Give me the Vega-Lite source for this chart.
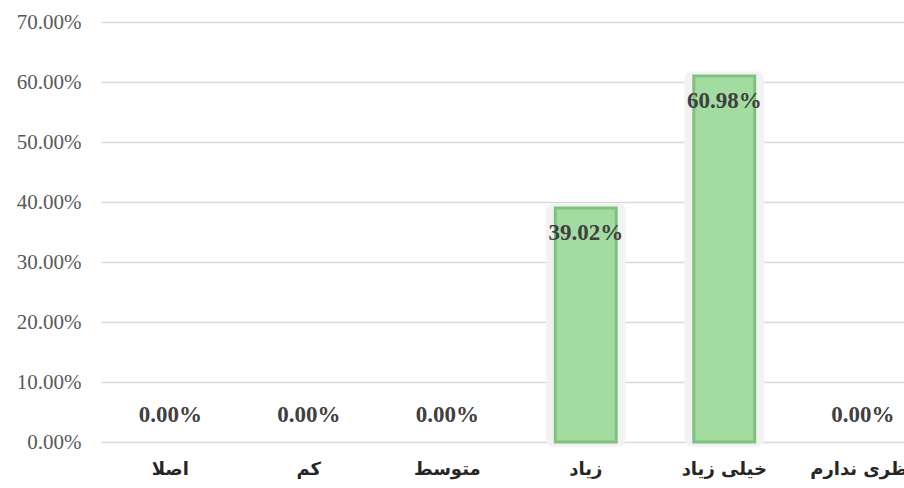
{
  "$schema": "https://vega.github.io/schema/vega-lite/v6.json",
  "autosize": {"type": "none"},
  "width": 831,
  "height": 420,
  "padding": {"left": 101, "top": 22, "right": 0, "bottom": 46},
  "background": "white",
  "config": {"view": {"stroke": null}},
  "data": {"values": [
    {"category": "اصلا", "value": 0},
    {"category": "کم", "value": 0},
    {"category": "متوسط", "value": 0},
    {"category": "زیاد", "value": 0.3902},
    {"category": "خیلی زیاد", "value": 0.6098},
    {"category": "نظری ندارم", "value": 0}
  ]},
  "encoding": {
    "x": {
      "field": "category", "type": "nominal",
      "sort": ["اصلا", "کم", "متوسط", "زیاد", "خیلی زیاد", "نظری ندارم"],
      "scale": {"domain": ["اصلا", "کم", "متوسط", "زیاد", "خیلی زیاد", "نظری ندارم"], "paddingInner": 0, "paddingOuter": 0},
      "axis": {
        "title": null, "labelAngle": 0, "domain": false, "ticks": false,
        "labelPadding": 18, "labelFont": "DejaVu Sans", "labelFontWeight": "bold",
        "labelFontSize": 18, "labelColor": "#262626", "grid": false
      }
    },
    "y": {
      "field": "value", "type": "quantitative",
      "scale": {"domain": [0, 0.7], "nice": false},
      "axis": {
        "title": null, "format": ".2%", "values": [0, 0.1, 0.2, 0.3, 0.4, 0.5, 0.6, 0.7],
        "domain": false, "ticks": false, "labelPadding": 20,
        "labelFont": "Liberation Serif", "labelFontSize": 21, "labelColor": "#595959",
        "gridColor": "#d9d9d9", "gridWidth": 1.3
      }
    }
  },
  "layer": [
    {
      "mark": {"type": "bar", "color": "#efefef", "stroke": "#f2f2f2", "strokeWidth": 9, "cornerRadius": 3, "strokeJoin": "round", "width": {"band": 0.51}},
      "transform": [{"filter": "datum.value > 0"}]
    },
    {
      "mark": {"type": "bar", "color": "#a2dca0", "stroke": "#7fc27d", "strokeWidth": 3, "width": {"band": 0.44}},
      "transform": [{"filter": "datum.value > 0"}]
    },
    {
      "mark": {"type": "text", "baseline": "top", "dy": 14, "font": "Liberation Serif", "fontWeight": "bold", "fontSize": 23, "color": "#404040"},
      "transform": [{"filter": "datum.value > 0"}],
      "encoding": {"text": {"field": "value", "type": "quantitative", "format": ".2%"}}
    },
    {
      "mark": {"type": "text", "baseline": "bottom", "dy": -15, "font": "Liberation Serif", "fontWeight": "bold", "fontSize": 23, "color": "#404040"},
      "transform": [{"filter": "datum.value == 0"}],
      "encoding": {"text": {"field": "value", "type": "quantitative", "format": ".2%"}}
    }
  ]
}
